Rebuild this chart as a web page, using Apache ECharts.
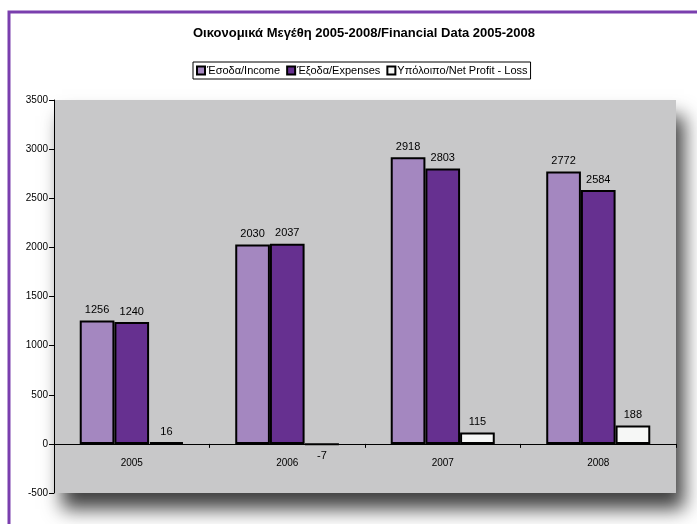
<!DOCTYPE html>
<html>
<head>
<meta charset="utf-8">
<script src="https://cdn.jsdelivr.net/npm/echarts@6/dist/echarts.min.js"></script>
<style>
html,body{margin:0;padding:0;background:#fff;}
#chart{width:697px;height:524px;}
</style>
</head>
<body>
<div id="chart"></div>
<script>
const titleText = 'Οικονομικά Μεγέθη 2005-2008/Financial Data 2005-2008';
const categories = ['2005', '2006', '2007', '2008'];
const seriesNames = ['Έσοδα/Income', 'Έξοδα/Expenses', 'Υπόλοιπο/Net Profit - Loss'];
const income = [1256, 2030, 2918, 2772];
const expenses = [1240, 2037, 2803, 2584];
const netProfit = [16, -7, 115, 188];
const yTicks = { min: -500, max: 3500, interval: 500 };

const colors = ['#A487C0', '#663090', '#F6F7F6'];
const sans = '"Liberation Sans", Arial, sans-serif';

function toData(arr) {
  return arr.map(v => v < 0 ? { value: v, label: { position: 'bottom' } } : { value: v });
}

const valuesList = [income, expenses, netProfit];
const series = valuesList.map((vals, i) => ({
  name: seriesNames[i],
  type: 'bar',
  data: toData(vals),
  barWidth: '22.3%',
  barGap: '0%',
  itemStyle: { color: colors[i], borderColor: '#000', borderWidth: 2 },
  label: {
    show: true,
    position: 'top',
    distance: 5,
    color: '#000',
    fontSize: 11,
    fontFamily: sans
  }
}));

const chart = echarts.init(document.getElementById('chart'), null, { renderer: 'canvas' });
chart.setOption({
  backgroundColor: '#ffffff',
  animation: false,
  title: {
    text: titleText,
    left: 188,
    top: 22,
    textStyle: { fontSize: 13, fontWeight: 'bold', color: '#000', fontFamily: sans }
  },
  legend: {
    data: seriesNames,
    left: 193,
    top: 62,
    itemWidth: 8,
    itemHeight: 8,
    itemGap: 6,
    padding: [3, 3, 3, 3],
    borderColor: '#000',
    borderWidth: 1,
    icon: 'rect',
    textStyle: { fontSize: 11, color: '#000', fontFamily: sans, padding: [0, 0, 0, -3] }
  },
  grid: {
    left: 54,
    top: 100,
    width: 622,
    height: 393,
    show: true,
    backgroundColor: '#C8C8C9',
    borderWidth: 0,
    shadowColor: 'rgba(0,0,0,0.75)',
    shadowBlur: 18,
    shadowOffsetX: 8,
    shadowOffsetY: 16,
    containLabel: false
  },
  xAxis: {
    type: 'category',
    data: categories,
    axisLine: { onZero: true, lineStyle: { color: '#000', width: 1 } },
    axisTick: { show: true, length: 4, lineStyle: { color: '#000' } },
    axisLabel: { color: '#000', fontSize: 10, margin: -35, fontFamily: sans },
    splitLine: { show: false }
  },
  yAxis: {
    type: 'value',
    min: yTicks.min,
    max: yTicks.max,
    interval: yTicks.interval,
    axisLine: { show: true, lineStyle: { color: '#000', width: 1 } },
    axisTick: { show: true, length: 5, lineStyle: { color: '#000' } },
    axisLabel: { color: '#000', fontSize: 10, margin: 6, fontFamily: sans, formatter: v => String(v) },
    splitLine: { show: false }
  },
  graphic: [
    {
      type: 'polyline',
      shape: { points: [[9, 524], [9, 12], [697, 12]] },
      style: { stroke: '#7A3FAE', lineWidth: 3, fill: null },
      silent: true
    }
  ],
  series: series
});
</script>
</body>
</html>
